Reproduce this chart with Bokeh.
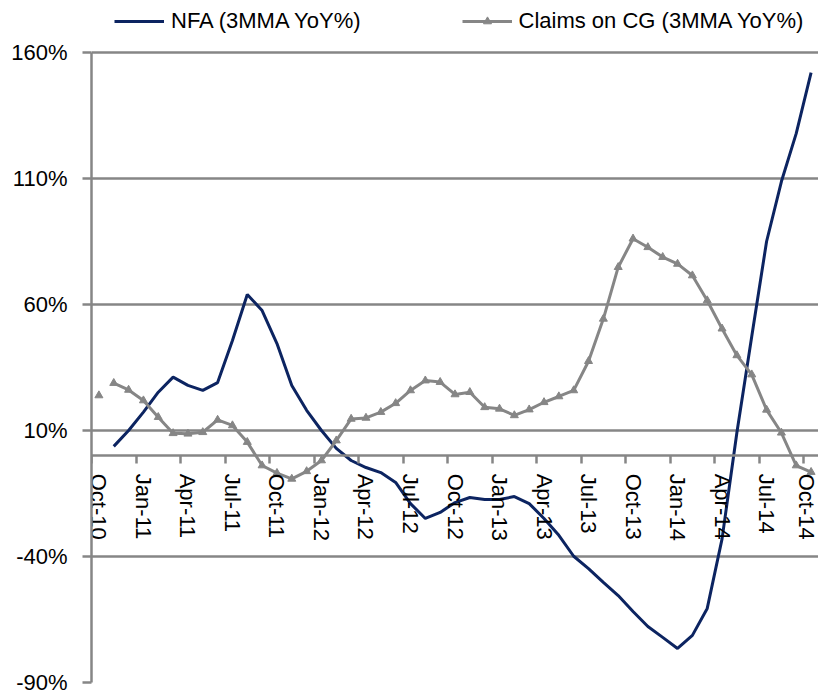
import math
from bokeh.plotting import figure
from bokeh.models import (FixedTicker, LinearAxis, Range1d, Legend, LegendItem,
                          PrintfTickFormatter, Grid, ColumnDataSource)
from bokeh.embed import file_html
from bokeh.resources import INLINE

months = ["Oct-10", "Nov-10", "Dec-10",
          "Jan-11", "Feb-11", "Mar-11", "Apr-11", "May-11", "Jun-11",
          "Jul-11", "Aug-11", "Sep-11", "Oct-11", "Nov-11", "Dec-11",
          "Jan-12", "Feb-12", "Mar-12", "Apr-12", "May-12", "Jun-12",
          "Jul-12", "Aug-12", "Sep-12", "Oct-12", "Nov-12", "Dec-12",
          "Jan-13", "Feb-13", "Mar-13", "Apr-13", "May-13", "Jun-13",
          "Jul-13", "Aug-13", "Sep-13", "Oct-13", "Nov-13", "Dec-13",
          "Jan-14", "Feb-14", "Mar-14", "Apr-14", "May-14", "Jun-14",
          "Jul-14", "Aug-14", "Sep-14", "Oct-14"]

nfa = [None, 3.7, 10.0, 17.3, 25.2, 31.2, 27.9, 25.9, 29.0, 45.7, 64.0, 57.6,
       44.5, 27.9, 18.0, 10.0, 2.9, -1.9, -4.7, -6.7, -10.6, -19.0, -24.9, -22.5,
       -18.6, -16.6, -17.4, -17.4, -16.2, -19.0, -24.9, -31.6, -39.9, -44.8, -50.3,
       -55.5, -61.8, -67.8, -72.1, -76.5, -71.3, -60.6, -33.0, 9.2, 47.3, 85.0,
       108.8, 127.9, 152.0]

claims = [23.9, 28.8, 26.1, 21.9, 15.3, 8.9, 8.7, 9.3, 14.2, 12.0, 5.4, -3.9,
          -6.9, -9.2, -6.2, -1.9, 6.0, 14.6, 15.0, 17.3, 20.8, 25.9, 29.8, 29.2,
          24.3, 25.2, 19.2, 18.6, 16.0, 18.3, 21.2, 23.5, 25.9, 37.5, 54.3, 74.8,
          86.1, 82.7, 78.8, 76.1, 71.5, 61.6, 50.4, 39.8, 32.2, 18.2, 9.1, -3.9, -6.5]

y_ticks = [-90, -40, 10, 60, 110, 160]
label_step = 3

NAVY = "#0c2461"
GRAY = "#868686"
AXIS_FONT = "Liberation Sans"
LEG_FONT = "Liberation Sans"

n = len(months)
x = list(range(n))
nfa_vals = [float("nan") if v is None else v for v in nfa]
claims_line = [float("nan")] + claims[1:]

src = ColumnDataSource(dict(x=x, nfa=nfa_vals, claims=claims, claims_line=claims_line))

# frame spans the full height; headroom above the top tick holds the legend
H, BOTTOM, TOP_PAD = 694, 12, 52
y_lo, y_hi = y_ticks[0], y_ticks[-1]
scale = (H - BOTTOM - TOP_PAD) / (y_hi - y_lo)
y_top = y_hi + TOP_PAD / scale

p = figure(width=818, height=H, output_backend="svg", toolbar_location=None,
           x_range=Range1d(-0.5, n - 0.5), y_range=Range1d(y_lo, y_top),
           min_border_left=91, min_border_right=0, min_border_top=0, min_border_bottom=BOTTOM,
           x_axis_location=None, y_axis_location=None)
p.outline_line_color = None
p.background_fill_color = "white"
p.xgrid.visible = False
p.ygrid.visible = False

# horizontal gridlines
grid = Grid(dimension=1, ticker=FixedTicker(ticks=y_ticks),
            grid_line_color=GRAY, grid_line_width=2.5)
p.add_layout(grid)

# y axis
yax = LinearAxis(ticker=FixedTicker(ticks=y_ticks), bounds=(y_lo, y_hi),
                 formatter=PrintfTickFormatter(format="%d%%"))
yax.axis_line_color = GRAY
yax.axis_line_width = 2.5
yax.major_tick_line_color = GRAY
yax.major_tick_line_width = 2.5
yax.major_tick_out = 9
yax.major_tick_in = 0
yax.minor_tick_line_color = None
yax.major_label_standoff = 15
yax.major_label_text_font = AXIS_FONT
yax.major_label_text_font_size = "22px"
yax.major_label_text_color = "black"
p.add_layout(yax, "left")

# x axis ticks (between categories), fixed at y = 0
label_idx = list(range(0, n, label_step))
xtick_ax = LinearAxis(ticker=FixedTicker(ticks=[i - 0.5 for i in label_idx]),
                      fixed_location=0)
xtick_ax.axis_line_color = GRAY
xtick_ax.axis_line_width = 2.5
xtick_ax.major_tick_line_color = GRAY
xtick_ax.major_tick_line_width = 2.5
xtick_ax.major_tick_out = 8
xtick_ax.major_tick_in = 0
xtick_ax.minor_tick_line_color = None
xtick_ax.major_label_text_alpha = 0
xtick_ax.major_label_text_font_size = "1px"
p.add_layout(xtick_ax, "below")

# x axis labels (at category centres)
xlab_ax = LinearAxis(ticker=FixedTicker(ticks=label_idx), fixed_location=0,
                     major_label_overrides={i: months[i] for i in label_idx})
xlab_ax.axis_line_color = None
xlab_ax.major_tick_line_color = None
xlab_ax.minor_tick_line_color = None
xlab_ax.major_tick_out = 0
xlab_ax.major_tick_in = 0
xlab_ax.major_label_standoff = 18
xlab_ax.major_label_orientation = "vertical"
xlab_ax.major_label_text_font = AXIS_FONT
xlab_ax.major_label_text_font_size = "22px"
xlab_ax.major_label_text_color = "black"
p.add_layout(xlab_ax, "below")

nfa_r = p.line("x", "nfa", source=src, line_color=NAVY, line_width=3)
cl_r = p.line("x", "claims_line", source=src, line_color=GRAY, line_width=3)
cl_s = p.scatter("x", "claims", source=src, marker="triangle", size=8,
                 fill_color=GRAY, line_color=GRAY)

legend = Legend(items=[LegendItem(label="NFA (3MMA YoY%)", renderers=[nfa_r]),
                       LegendItem(label="Claims on CG (3MMA YoY%)", renderers=[cl_r, cl_s])],
                location=(23, 648), orientation="horizontal")
legend.border_line_color = None
legend.background_fill_alpha = 0
legend.padding = 0
legend.margin = 0
legend.spacing = 101
legend.glyph_width = 50
legend.label_standoff = 7
legend.label_text_font = LEG_FONT
legend.label_text_font_size = "22px"
legend.label_text_color = "black"
p.add_layout(legend)

open("out.html", "w").write(file_html(p, INLINE))
